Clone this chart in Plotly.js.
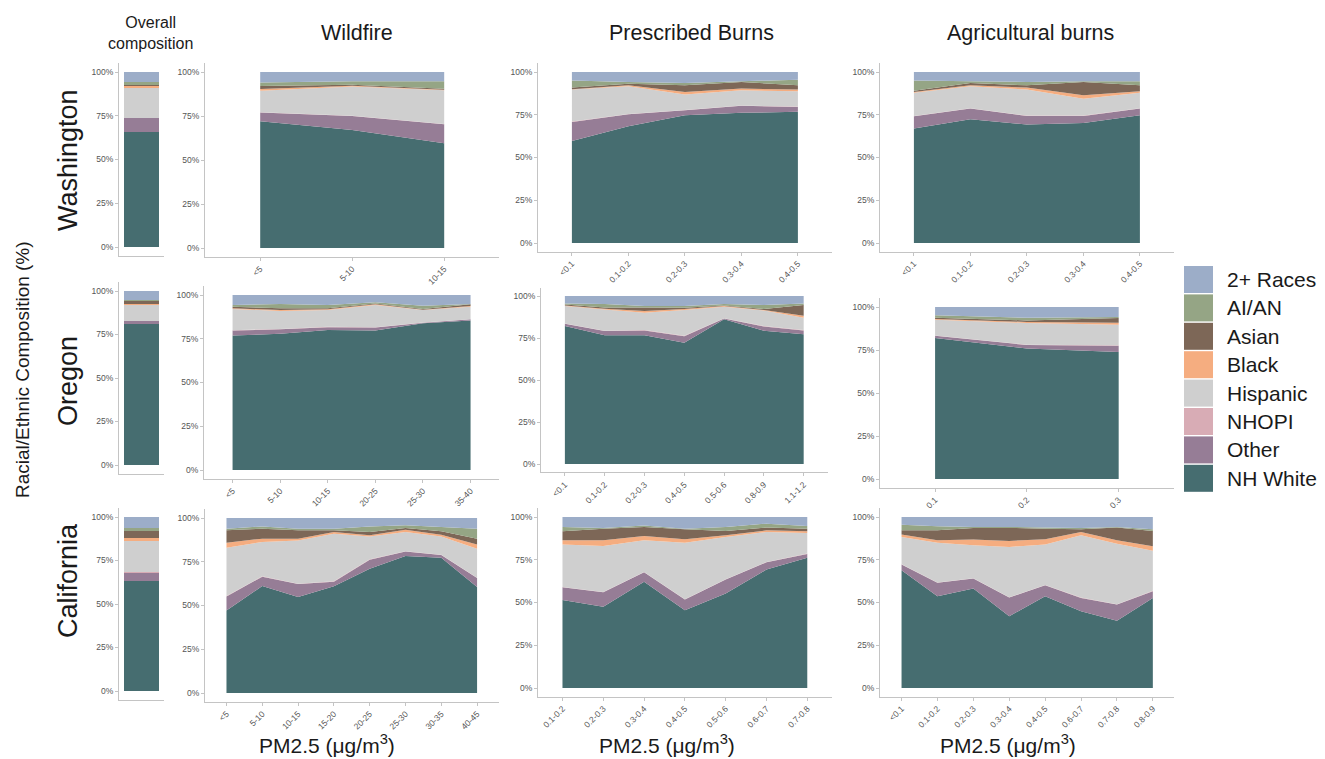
<!DOCTYPE html>
<html><head><meta charset="utf-8">
<script src="https://cdn.plot.ly/plotly-3.0.1.min.js"></script>
<style>html,body{margin:0;padding:0;background:#fff;overflow:hidden}#chart{width:1325px;height:759px}</style>
</head><body><div id="chart"></div>
<script>
// Stack order, bottom to top
const RACES = ['NH White','Other','NHOPI','Hispanic','Black','Asian','AI/AN','2+ Races'];
const COLORS = ['#466D70','#967D96','#D8ACB5','#CFCFCF','#F5AD80','#7D6757','#95A585','#9CADC8'];
const Y_TICKS = [0,25,50,75,100];
const Y_LABELS = ['0%','25%','50%','75%','100%'];

// Overall composition (one value per race, RACES order)
const WA_OVERALL = [66.0, 7.5, 0.3, 17.2, 0.8, 0.8, 1.9, 5.5];
const OR_OVERALL = [81.0, 1.8, 0.2, 9.0, 0.8, 1.2, 1.0, 5.0];
const CA_OVERALL = [63.0, 5.0, 0.4, 17.6, 2.0, 4.0, 1.5, 6.5];

// Washington
const WA_WILDFIRE_X = ['<5','5-10','10-15'];
const WA_WILDFIRE = [
  [72.0, 67.0, 59.5],
  [5.0, 8.0, 10.8],
  [0.2, 0.2, 0.2],
  [12.1, 16.6, 19.1],
  [1.0, 0.4, 0.3],
  [1.7, 0.6, 0.6],
  [2.0, 1.9, 4.3],
  [6.0, 5.3, 5.2]
];
const WA_PRESCRIBED_X = ['<0.1','0.1-0.2','0.2-0.3','0.3-0.4','0.4-0.5'];
const WA_PRESCRIBED = [
  [59.7, 68.3, 74.7, 76.1, 76.7],
  [11.1, 7.0, 2.9, 4.1, 2.9],
  [0.2, 0.2, 0.2, 0.2, 0.2],
  [18.7, 16.1, 9.0, 8.9, 8.9],
  [0.2, 0.6, 1.5, 1.0, 1.0],
  [1.0, 1.0, 3.9, 3.9, 2.5],
  [4.2, 1.0, 1.4, 0.4, 3.3],
  [4.9, 5.8, 6.4, 5.4, 4.5]
];
const WA_AG_X = ['<0.1','0.1-0.2','0.2-0.3','0.3-0.4','0.4-0.5'];
const WA_AG = [
  [66.9, 72.4, 69.3, 70.2, 74.7],
  [7.2, 6.2, 5.0, 4.1, 3.9],
  [0.2, 0.2, 0.2, 0.2, 0.2],
  [13.6, 12.8, 15.2, 9.9, 9.1],
  [0.4, 0.6, 1.2, 2.0, 0.8],
  [0.8, 1.4, 1.3, 7.8, 3.5],
  [6.0, 1.0, 2.0, 0.4, 2.4],
  [4.9, 5.4, 5.8, 5.4, 5.4]
];

// Oregon
const OR_WILDFIRE_X = ['<5','5-10','10-15','20-25','25-30','35-40'];
const OR_WILDFIRE = [
  [76.8, 77.8, 80.0, 79.7, 83.8, 85.4],
  [2.9, 2.6, 1.6, 1.7, 0.4, 0.7],
  [0.2, 0.2, 0.2, 0.2, 0.1, 0.1],
  [12.1, 10.3, 9.6, 12.7, 7.1, 7.1],
  [0.4, 0.5, 0.4, 0.4, 0.2, 0.4],
  [0.9, 1.0, 0.6, 0.5, 0.4, 1.0],
  [1.0, 2.5, 1.9, 0.6, 1.9, 0.2],
  [5.7, 5.1, 5.7, 4.2, 6.1, 5.1]
];
const OR_PRESCRIBED_X = ['<0.1','0.1-0.2','0.2-0.3','0.4-0.5','0.5-0.6','0.8-0.9','1.1-1.2'];
const OR_PRESCRIBED = [
  [82.1, 76.7, 76.7, 72.2, 86.1, 79.3, 77.3],
  [1.4, 2.4, 2.8, 3.9, 0.5, 2.6, 2.2],
  [0.2, 0.2, 0.2, 0.2, 0.1, 0.2, 0.2],
  [10.3, 12.7, 10.4, 15.4, 6.9, 9.2, 7.4],
  [0.4, 0.4, 1.0, 0.5, 0.4, 0.4, 1.2],
  [0.6, 0.8, 2.1, 0.8, 0.4, 0.5, 6.3],
  [0.6, 2.0, 0.8, 1.0, 0.8, 2.4, 1.0],
  [4.4, 4.8, 6.0, 6.0, 4.8, 5.4, 4.4]
];
const OR_AG_X = ['0.1','0.2','0.3'];
const OR_AG = [
  [82.0, 75.8, 73.8],
  [1.3, 2.1, 3.7],
  [0.2, 0.2, 0.2],
  [9.1, 12.6, 12.0],
  [0.4, 0.6, 1.2],
  [0.8, 0.9, 2.7],
  [1.4, 1.6, 0.6],
  [4.8, 6.2, 5.8]
];

// California
const CA_WILDFIRE_X = ['<5','5-10','10-15','15-20','20-25','25-30','30-35','40-45'];
const CA_WILDFIRE = [
  [47.2, 61.1, 54.9, 61.0, 71.0, 78.3, 77.3, 60.6],
  [8.0, 5.4, 7.4, 2.6, 5.2, 2.5, 1.5, 5.1],
  [0.2, 0.2, 0.2, 0.2, 0.2, 0.2, 0.2, 0.2],
  [27.6, 19.6, 24.7, 27.2, 13.1, 11.0, 10.5, 16.6],
  [2.9, 1.9, 1.0, 1.0, 0.6, 1.3, 1.0, 2.3],
  [7.1, 5.7, 4.8, 1.0, 1.9, 1.0, 1.9, 3.4],
  [0.9, 1.3, 0.9, 0.9, 3.2, 1.5, 2.5, 5.7],
  [6.1, 4.8, 6.1, 6.1, 4.8, 4.2, 5.1, 6.1]
];
const CA_PRESCRIBED_X = ['0.1-0.2','0.2-0.3','0.3-0.4','0.4-0.5','0.5-0.6','0.6-0.7','0.7-0.8'];
const CA_PRESCRIBED = [
  [51.4, 47.5, 62.1, 45.5, 55.3, 69.3, 76.1],
  [7.5, 8.5, 5.6, 6.2, 8.1, 4.2, 2.3],
  [0.2, 0.2, 0.2, 0.2, 0.2, 0.2, 0.2],
  [24.8, 26.9, 18.5, 33.1, 24.7, 17.5, 12.1],
  [2.5, 3.3, 2.5, 2.0, 1.0, 1.0, 0.9],
  [5.2, 6.8, 5.3, 5.8, 2.5, 1.6, 1.6],
  [2.6, 0.4, 0.9, 0.4, 2.4, 2.3, 1.5],
  [5.8, 6.4, 4.9, 6.8, 5.8, 3.9, 5.3]
];
const CA_AG_X = ['<0.1','0.1-0.2','0.2-0.3','0.3-0.4','0.4-0.5','0.6-0.7','0.7-0.8','0.8-0.9'];
const CA_AG = [
  [68.9, 53.7, 58.2, 42.0, 53.7, 44.9, 39.3, 52.7],
  [3.3, 7.8, 5.8, 10.9, 6.4, 7.8, 9.5, 3.9],
  [0.2, 0.2, 0.2, 0.2, 0.2, 0.2, 0.2, 0.2],
  [15.9, 23.3, 19.3, 29.4, 23.6, 36.4, 35.4, 23.4],
  [1.4, 1.4, 3.3, 3.5, 3.1, 1.9, 2.0, 2.7],
  [2.5, 5.8, 6.8, 7.6, 6.2, 1.6, 7.4, 8.9],
  [3.3, 2.4, 0.6, 0.6, 0.6, 0.8, 0.4, 1.0],
  [4.5, 5.4, 5.8, 5.8, 6.2, 6.4, 5.8, 7.2]
];

const COLUMN_TITLES = ['Wildfire','Prescribed Burns','Agricultural burns'];
const ROW_TITLES = ['Washington','Oregon','California'];
const X_TITLE = 'PM2.5 (μg/m<sup>3</sup>)';
const Y_TITLE = 'Racial/Ethnic Composition (%)';

// ---------- layout (pixel geometry) ----------
const W = 1325, H = 759;
const fx = p => p / W, fy = p => 1 - p / H;
const FONT = 'Liberation Sans, Arial, Helvetica, sans-serif';
const AX = '#c4c4c4';
const TICK = '#555555';

const panels = [
  {d: WA_OVERALL, L: 119, R: 164, T: 72, B: 247},
  {d: WA_WILDFIRE, c: WA_WILDFIRE_X, L: 205, T: 72, B: 248, u: 92},
  {d: WA_PRESCRIBED, c: WA_PRESCRIBED_X, L: 538, T: 72, B: 243, u: 56.5},
  {d: WA_AG, c: WA_AG_X, L: 880, T: 72, B: 243, u: 56.5},
  {d: OR_OVERALL, L: 119, R: 164, T: 291, B: 465},
  {d: OR_WILDFIRE, c: OR_WILDFIRE_X, L: 204, T: 295, B: 470, u: 47.6},
  {d: OR_PRESCRIBED, c: OR_PRESCRIBED_X, L: 541, T: 296, B: 464, u: 39.8},
  {d: OR_AG, c: OR_AG_X, L: 880, T: 307, B: 479, u: 91.8},
  {d: CA_OVERALL, L: 119, R: 164, T: 517, B: 691},
  {d: CA_WILDFIRE, c: CA_WILDFIRE_X, L: 205, T: 518, B: 693, u: 35.8},
  {d: CA_PRESCRIBED, c: CA_PRESCRIBED_X, L: 538, T: 517, B: 688, u: 40.8},
  {d: CA_AG, c: CA_AG_X, L: 880, T: 517, B: 688, u: 35.9}
];

const traces = [];
const layout = {
  width: W, height: H, autosize: false,
  margin: {l: 0, r: 0, t: 0, b: 0, pad: 0},
  paper_bgcolor: '#ffffff', plot_bgcolor: 'rgba(0,0,0,0)',
  showlegend: false, barmode: 'stack', hovermode: false,
  font: {family: FONT, color: '#1a1a1a'},
  annotations: [], shapes: []
};

panels.forEach((p, i) => {
  const k = i + 1;
  const xa = k === 1 ? 'x' : 'x' + k;
  const ya = k === 1 ? 'y' : 'y' + k;
  const n = p.c ? p.c.length : 1;
  const R = p.c ? p.L + (n + 0.2) * p.u : p.R;
  const per = (p.B - p.T) / 100;
  if (!p.c) {
    p.d.forEach((v, j) => traces.push({
      type: 'bar', x: [0], y: [v], width: 0.86,
      marker: {color: COLORS[j], line: {width: 0}},
      xaxis: xa, yaxis: ya, showlegend: false, hoverinfo: 'skip', name: RACES[j]
    }));
  } else {
    p.d.forEach((row, j) => traces.push({
      type: 'scatter', mode: 'none', x: p.c, y: row,
      stackgroup: 'g' + k, fillcolor: COLORS[j],
      xaxis: xa, yaxis: ya, showlegend: false, hoverinfo: 'skip', name: RACES[j]
    }));
  }
  const xax = {
    domain: [fx(p.L), fx(R)], anchor: ya,
    showline: true, linecolor: AX, linewidth: 1,
    showgrid: false, zeroline: false, fixedrange: true, automargin: false
  };
  if (p.c) {
    Object.assign(xax, {
      type: 'category', range: [-0.6, n - 0.4],
      ticks: 'outside', ticklen: 3, tickcolor: AX, tickwidth: 1,
      tickangle: -45, tickfont: {size: 8.5, color: TICK, family: FONT}
    });
  } else {
    Object.assign(xax, {
      type: 'linear', range: [-0.56, 0.56], tickmode: 'array', tickvals: [],
      showticklabels: false, ticks: ''
    });
  }
  layout['xaxis' + (k === 1 ? '' : k)] = xax;
  layout['yaxis' + (k === 1 ? '' : k)] = {
    domain: [fy(p.B + 5 * per), fy(p.T - 5 * per)], anchor: xa,
    range: [-5, 105], tickmode: 'array', tickvals: Y_TICKS, ticktext: Y_LABELS,
    showline: true, linecolor: AX, linewidth: 1,
    ticks: 'outside', ticklen: 3, tickcolor: AX, tickwidth: 1,
    tickfont: {size: 8.5, color: TICK, family: FONT},
    showgrid: false, zeroline: false, fixedrange: true, automargin: false
  };
});

function note(text, px, py, size, extra) {
  layout.annotations.push(Object.assign({
    text: text, xref: 'paper', yref: 'paper', x: fx(px), y: fy(py),
    xanchor: 'center', yanchor: 'middle', showarrow: false,
    font: {size: size, color: '#1a1a1a', family: FONT}
  }, extra || {}));
}

note('Overall<br>composition', 150, 33, 16, {align: 'center'});
const colCenters = [357, 691, 1030];
COLUMN_TITLES.forEach((t, i) => note(t, colCenters[i], 33, 21.5));
const rowCenters = [160, 381, 581];
ROW_TITLES.forEach((t, i) => note(t, 68, rowCenters[i], 27, {textangle: -90}));
note(Y_TITLE, 23, 370, 19, {textangle: -90});
const xtCenters = [327, 667, 1008];
xtCenters.forEach(c => note(X_TITLE, c, 744, 21));

// legend (top-down: reverse of stack order)
const legendOrder = RACES.map((r, j) => j).reverse();
legendOrder.forEach((j, i) => {
  const top = 266 + i * 28.4;
  layout.shapes.push({
    type: 'rect', xref: 'paper', yref: 'paper',
    x0: fx(1184), x1: fx(1213), y0: fy(top), y1: fy(top + 27),
    fillcolor: COLORS[j], line: {width: 0}
  });
  layout.annotations.push({
    text: RACES[j], xref: 'paper', yref: 'paper', x: fx(1225), y: fy(top + 13.5),
    xanchor: 'left', yanchor: 'middle', showarrow: false,
    font: {size: 21, color: '#1a1a1a', family: FONT}
  });
});

Plotly.newPlot('chart', traces, layout, {staticPlot: true, displayModeBar: false});
</script></body></html>
